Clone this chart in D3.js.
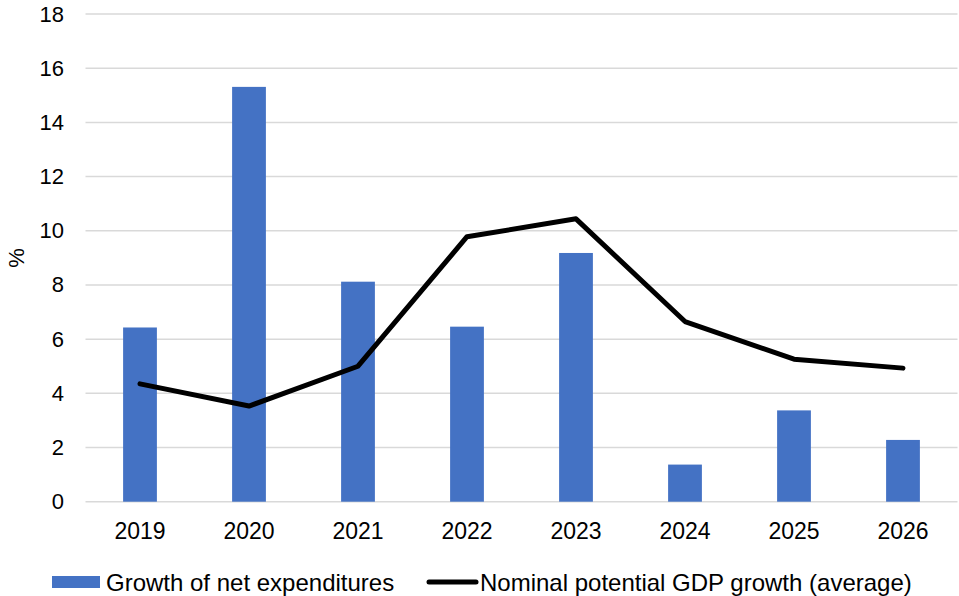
<!DOCTYPE html>
<html>
<head>
<meta charset="utf-8">
<script src="https://cdn.jsdelivr.net/npm/d3@7"></script>
<style>
  html, body { margin: 0; padding: 0; background: #fff; }
  svg { display: block; font-family: "Liberation Sans", Arial, sans-serif; }
</style>
</head>
<body>
<svg id="chart" width="959" height="596"></svg>
<script>
// Years on the x axis
const years = ["2019", "2020", "2021", "2022", "2023", "2024", "2025", "2026"];
// Growth of net expenditures (%)
const netExpenditureGrowth = [6.43, 15.31, 8.12, 6.46, 9.18, 1.37, 3.37, 2.28];
// Nominal potential GDP growth, average (%)
const potentialGdpGrowth = [4.35, 3.53, 5.0, 9.78, 10.44, 6.65, 5.26, 4.93];
// Y axis ticks
const yTicks = [0, 2, 4, 6, 8, 10, 12, 14, 16, 18];

const seriesNames = ["Growth of net expenditures", "Nominal potential GDP growth (average)"];

const svg = d3.select("#chart");
const margin = { left: 85.5, right: 1.5, top: 14, bottom: 94 };
const width = 959, height = 596;
const yTickFont = 22;
const xTickFont = 23;
const legendFont = 24;

const x = d3.scaleBand()
  .domain(years)
  .range([margin.left, width - margin.right])
  .paddingInner(0.69)
  .paddingOuter(0.345);

const y = d3.scaleLinear()
  .domain([0, 18])
  .range([height - margin.bottom - 0.3, margin.top]);

// Horizontal gridlines
svg.append("g")
  .selectAll("line")
  .data(yTicks)
  .join("line")
  .attr("x1", margin.left)
  .attr("x2", width - margin.right)
  .attr("y1", d => y(d))
  .attr("y2", d => y(d))
  .attr("stroke", "#d9d9d9")
  .attr("stroke-width", 1.5);

// Y axis tick labels
const yAxis = d3.axisLeft(y).tickValues(yTicks).tickSize(0).tickPadding(0);
svg.append("g")
  .attr("transform", `translate(${64},0)`)
  .call(yAxis)
  .call(g => g.select(".domain").remove())
  .call(g => g.selectAll("text")
    .attr("font-size", yTickFont)
    .attr("font-family", "Liberation Sans, Arial, sans-serif")
    .attr("fill", "#000"));

// X axis labels
const xAxis = d3.axisBottom(x).tickSize(0).tickPadding(0);
svg.append("g")
  .attr("transform", `translate(0,${y(0) + 21})`)
  .call(xAxis)
  .call(g => g.select(".domain").remove())
  .call(g => g.selectAll("text")
    .attr("font-size", xTickFont)
    .attr("font-family", "Liberation Sans, Arial, sans-serif")
    .attr("fill", "#000"));

// Y axis title
svg.append("text")
  .attr("transform", `translate(24,${(y(0) + y(18)) / 2}) rotate(-90)`)
  .attr("text-anchor", "middle")
  .attr("font-size", yTickFont)
  .attr("fill", "#000")
  .text("%");

// Bars
svg.append("g")
  .selectAll("rect")
  .data(years.map((yr, i) => ({ yr, v: netExpenditureGrowth[i] })))
  .join("rect")
  .attr("x", d => x(d.yr))
  .attr("width", x.bandwidth())
  .attr("y", d => y(d.v))
  .attr("height", d => y(0) - y(d.v))
  .attr("fill", "#4472c4");

// Line
const line = d3.line()
  .x((d, i) => x(years[i]) + x.bandwidth() / 2)
  .y(d => y(d));

svg.append("path")
  .datum(potentialGdpGrowth)
  .attr("d", line)
  .attr("fill", "none")
  .attr("stroke", "#000")
  .attr("stroke-width", 5)
  .attr("stroke-linejoin", "round")
  .attr("stroke-linecap", "round");

// Legend
const legendY = 582;
const legend = svg.append("g");
legend.append("rect")
  .attr("x", 52).attr("y", legendY - 6)
  .attr("width", 48).attr("height", 12)
  .attr("fill", "#4472c4");
legend.append("text")
  .attr("x", 106).attr("y", legendY + 8.5)
  .attr("font-size", legendFont)
  .attr("fill", "#000")
  .text(seriesNames[0]);
legend.append("line")
  .attr("x1", 429).attr("x2", 476)
  .attr("y1", legendY).attr("y2", legendY)
  .attr("stroke", "#000")
  .attr("stroke-width", 5)
  .attr("stroke-linecap", "round");
legend.append("text")
  .attr("x", 480).attr("y", legendY + 8.5)
  .attr("font-size", legendFont)
  .attr("fill", "#000")
  .text(seriesNames[1]);
</script>
</body>
</html>
